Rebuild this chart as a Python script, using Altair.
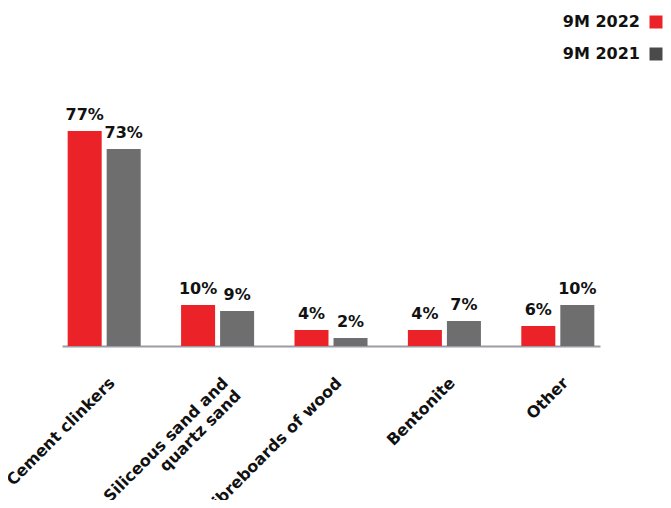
import altair as alt
import pandas as pd

categories = ["Cement clinkers", "Siliceous sand and|quartz sand", "Fibreboards of wood", "Bentonite", "Other"]
series = ["9M 2022", "9M 2021"]
# printed percentages
labels_2022 = [77, 10, 4, 4, 6]
labels_2021 = [73, 9, 2, 7, 10]
# bar heights as drawn in the reference (same units)
bars_2022 = [76.8, 14.6, 5.7, 5.7, 7.1]
bars_2021 = [70.4, 12.5, 2.9, 8.9, 14.6]
colors = ["#ec2229", "#6e6e6e"]
legend_colors = ["#ec2229", "#4a4a4a"]

rows = []
for c, la, lb, ba, bb in zip(categories, labels_2022, labels_2021, bars_2022, bars_2021):
    rows.append({"category": c, "series": series[0], "value": ba, "label": f"{la}%"})
    rows.append({"category": c, "series": series[1], "value": bb, "label": f"{lb}%"})
df = pd.DataFrame(rows)
legend_df = pd.DataFrame({"series": series, "swatch": legend_colors})

FONT = "DejaVu Sans"

x = alt.X(
    "category:N",
    sort=categories,
    scale=alt.Scale(paddingInner=0.356, paddingOuter=0.05),
    axis=alt.Axis(
        title=None,
        labelAngle=-45,
        labelAlign="right",
        labelBaseline="middle",
        labelFont=FONT,
        labelFontSize=16,
        labelFontWeight="bold",
        labelColor="#111111",
        labelPadding=34,
        labelOffset=8,
        labelLineHeight=18,
        labelExpr="split(datum.label, '|')",
        ticks=False,
        domainColor="#9c9ca4",
        domainWidth=2,
        labelLimit=300,
    ),
)
xoff = alt.XOffset("series:N", sort=series, scale=alt.Scale(paddingInner=0.128))
y = alt.Y("value:Q", scale=alt.Scale(domain=[0, 80]), axis=None)

bars = alt.Chart(df).mark_bar().encode(
    x=x,
    xOffset=xoff,
    y=y,
    color=alt.Color("series:N", sort=series, scale=alt.Scale(domain=series, range=colors), legend=None),
)

text = alt.Chart(df).mark_text(
    baseline="bottom", dy=-8, font=FONT, fontSize=16, fontWeight="bold", color="#111111"
).encode(x=alt.X("category:N", sort=categories), xOffset=xoff, y=y, text="label:N")

leg_y = alt.Y("series:N", sort=series, axis=None,
              scale=alt.Scale(domain=series, range=[-100, -68], padding=0))

leg_sq = alt.Chart(legend_df).mark_square(size=169, opacity=1).encode(
    x=alt.value(594), y=leg_y, color=alt.Color("swatch:N", scale=None)
)
leg_tx = alt.Chart(legend_df).mark_text(
    align="right", baseline="middle", font=FONT, fontSize=16, fontWeight="bold", color="#111111"
).encode(x=alt.value(578), y=leg_y, text="series:N")

chart = alt.layer(bars, text, leg_sq, leg_tx).resolve_scale(
    y="independent", color="independent"
).properties(
    width=538,
    height=224,
    background="white",
    autosize=alt.AutoSizeParams(type="none"),
    padding={"left": 54, "top": 114, "right": 63, "bottom": 154},
).configure_view(strokeWidth=0)

chart.save("out.html", embed_options={"renderer": "svg", "actions": False})
